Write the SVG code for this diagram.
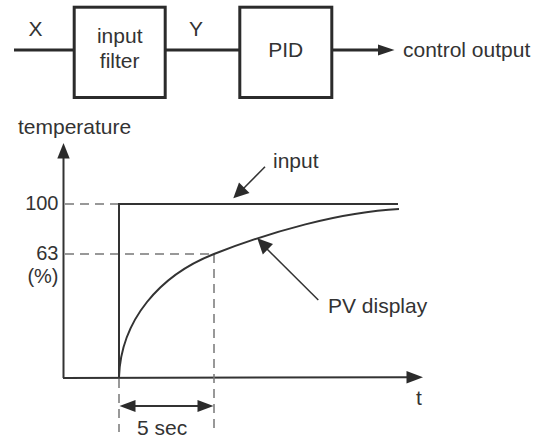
<svg xmlns="http://www.w3.org/2000/svg" width="547" height="440" viewBox="0 0 547 440">
<style>
text{font-family:"Liberation Sans",Arial,sans-serif;font-size:21px;fill:#333}
.num{font-size:20px}
.box{fill:#fff;stroke:#2b2b2b;stroke-width:3}
.sig{stroke:#2b2b2b;stroke-width:3;fill:none}
.ln{stroke:#333;stroke-width:2;fill:none}
.thin{stroke:#333;stroke-width:1.5;fill:none}
.dash{stroke:#777;stroke-width:1.5;fill:none;stroke-dasharray:9 6}
.ah{fill:#2b2b2b}
</style>
<rect width="547" height="440" fill="#fff"/>
<g id="connectors">
  <line class="sig" x1="14" y1="50" x2="74" y2="50"/>
  <line class="sig" x1="166" y1="50" x2="240" y2="50"/>
  <line class="sig" x1="332" y1="50" x2="380" y2="50"/>
  <polygon class="ah" points="378,44.5 394.5,50 378,55.5"/>
  <text x="35.5" y="36" text-anchor="middle">X</text>
  <text x="196" y="36" text-anchor="middle">Y</text>
  <text x="403" y="57">control output</text>
</g>
<g id="input-filter">
  <rect class="box" x="74.2" y="7.2" width="91" height="90.3"/>
  <text x="119.7" y="43" text-anchor="middle">input</text>
  <text x="119.7" y="68" text-anchor="middle">filter</text>
</g>
<g id="pid">
  <rect class="box" x="239.8" y="7.2" width="92" height="90.3"/>
  <text x="285.8" y="57" text-anchor="middle">PID</text>
</g>
<g id="chart">
  <text x="18" y="134">temperature</text>
  <line class="ln" x1="63.5" y1="156" x2="63.5" y2="378"/>
  <polygon class="ah" points="57.3,158.5 63.5,143 69.7,158.5"/>
  <line class="ln" x1="63" y1="378" x2="408" y2="377.3"/>
  <polygon class="ah" points="406.5,371 423,377.3 406.5,383.6"/>
  <text x="416" y="405">t</text>
  <line class="dash" x1="65" y1="204" x2="118" y2="204"/>
  <line class="dash" x1="65" y1="254" x2="214" y2="254"/>
  <line class="dash" x1="214" y1="254" x2="214" y2="432"/>
  <line class="dash" x1="119" y1="379" x2="119" y2="432"/>
  <text class="num" x="58.5" y="210" text-anchor="end">100</text>
  <text class="num" x="58.5" y="260" text-anchor="end">63</text>
  <text class="num" x="58.5" y="283" text-anchor="end">(%)</text>
  <polyline class="ln" points="119,377.3 119,204 398,204"/>
  <path class="ln" d="M119,377 C121,320 160,275 214,254 C270,232 340,212 399,209"/>
  <line class="thin" x1="265" y1="166.7" x2="243" y2="189"/>
  <polygon class="ah" points="233.3,198.3 239,182.5 249.5,193"/>
  <text x="273" y="168">input</text>
  <line class="thin" x1="318.3" y1="300" x2="266" y2="248"/>
  <polygon class="ah" points="257.3,238.3 273,244 262.8,254.5"/>
  <text x="328" y="313">PV display</text>
  <line class="ln" x1="133" y1="406" x2="200" y2="406"/>
  <polygon class="ah" points="119.5,406 135.5,400 135.5,412"/>
  <polygon class="ah" points="213.5,406 197.5,400 197.5,412"/>
  <text x="137" y="435">5 sec</text>
</g>
</svg>
